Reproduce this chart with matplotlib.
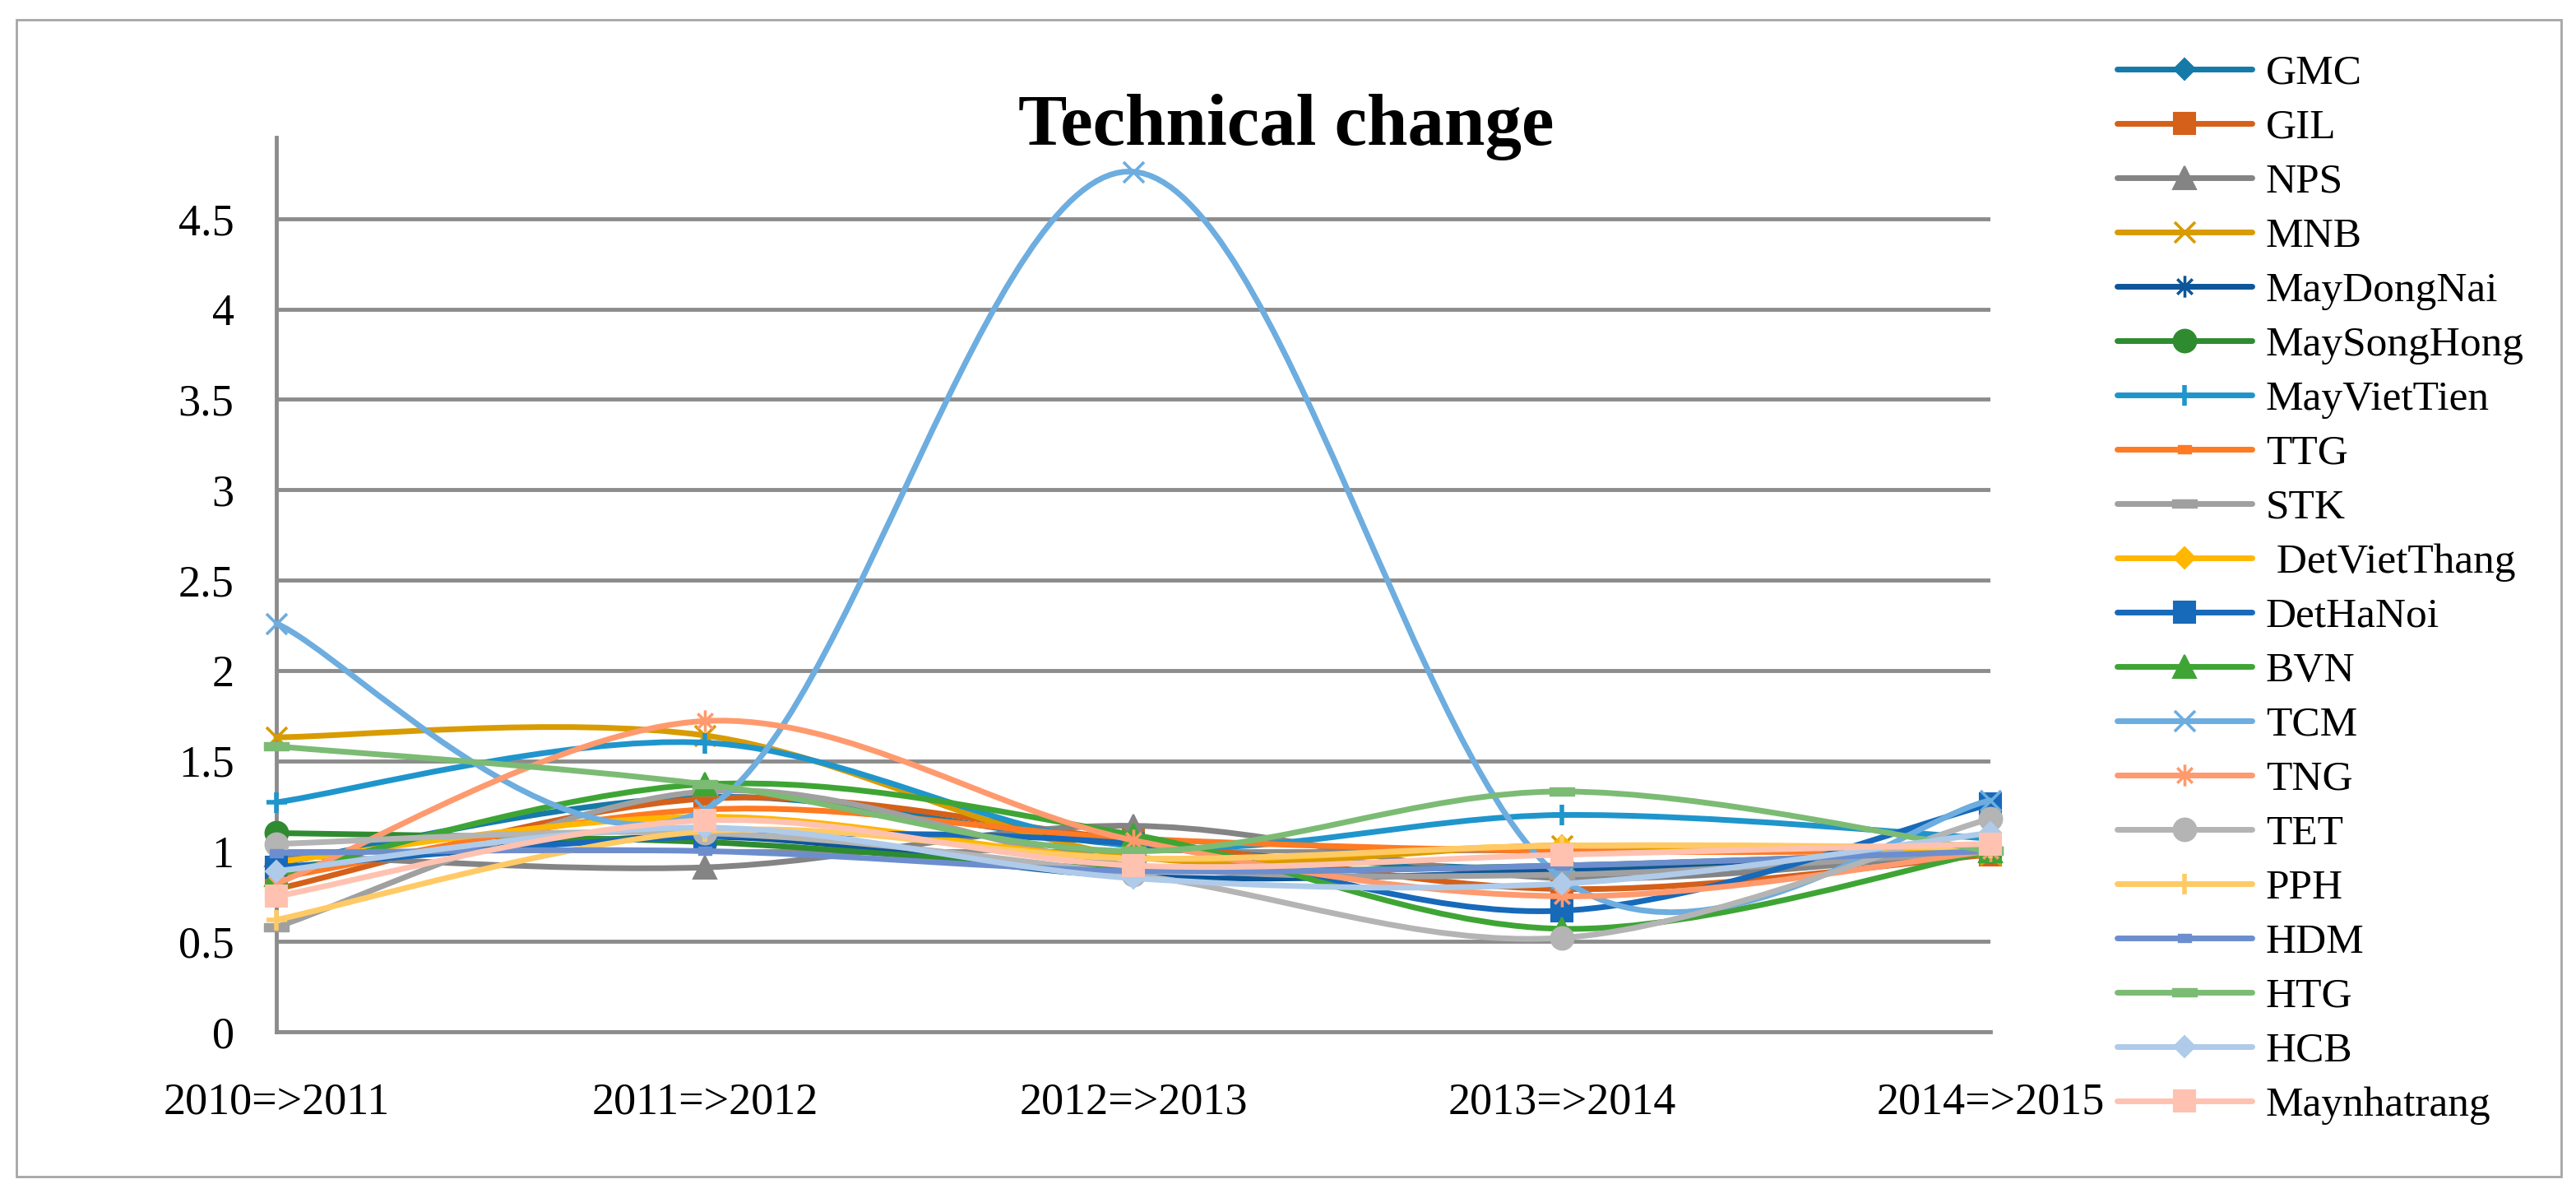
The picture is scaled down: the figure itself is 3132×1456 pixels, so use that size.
import numpy as np
import matplotlib
matplotlib.use('Agg')
import matplotlib.pyplot as plt
from matplotlib.path import Path
from matplotlib.patches import PathPatch, Rectangle
from matplotlib.lines import Line2D

# Datos
periodos = ['2010=>2011', '2011=>2012', '2012=>2013', '2013=>2014', '2014=>2015']
empresas = ['GMC', 'GIL', 'NPS', 'MNB', 'MayDongNai', 'MaySongHong', 'MayVietTien',
            'TTG', 'STK', ' DetVietThang', 'DetHaNoi', 'BVN', 'TCM', 'TNG', 'TET',
            'PPH', 'HDM', 'HTG', 'HCB', 'Maynhatrang']

gmc = [0.93, 1.30, 1.03, 0.90, 1.00]
gil = [0.79, 1.29, 1.06, 0.79, 0.98]
nps = [0.98, 0.91, 1.14, 0.85, 1.00]
mnb = [1.63, 1.64, 0.97, 1.03, 0.98]
may_dong_nai = [0.90, 1.08, 0.86, 0.89, 1.00]
may_song_hong = [1.10, 1.05, 0.90, 0.92, 1.00]
may_viet_tien = [1.27, 1.60, 1.03, 1.20, 1.07]
ttg = [0.85, 1.23, 1.07, 1.00, 1.00]
stk = [0.58, 1.33, 0.92, 0.87, 1.00]
det_viet_thang = [0.94, 1.19, 0.96, 1.03, 1.00]
det_ha_noi = [0.91, 1.08, 1.04, 0.67, 1.26]
bvn = [0.87, 1.37, 1.09, 0.57, 1.00]
tcm = [2.26, 1.23, 4.76, 0.85, 1.28]
tng = [0.82, 1.72, 1.06, 0.75, 1.00]
tet = [1.04, 1.10, 0.87, 0.52, 1.18]
pph = [0.62, 1.11, 0.96, 1.03, 1.02]
hdm = [0.99, 1.00, 0.89, 0.92, 1.00]
htg = [1.58, 1.37, 1.00, 1.33, 1.00]
hcb = [0.89, 1.13, 0.85, 0.82, 1.10]
maynhatrang = [0.75, 1.17, 0.92, 0.98, 1.04]

valores = [gmc, gil, nps, mnb, may_dong_nai, may_song_hong, may_viet_tien, ttg, stk,
           det_viet_thang, det_ha_noi, bvn, tcm, tng, tet, pph, hdm, htg, hcb, maynhatrang]

colores = ['#157AA8', '#D4601A', '#848484', '#D89B00', '#0D5699', '#2F8B30', '#1F95CC',
           '#FF7A22', '#A0A0A0', '#FFB702', '#1769BA', '#3EA535', '#6DADDF', '#FF9A6E',
           '#B4B4B4', '#FFCA66', '#6D8ECE', '#7CBB74', '#AFCBE9', '#FFC2B1']

# Marcadores tipo Excel
asterisco = Path([(-0.7, -0.7), (0.7, 0.7), (-0.7, 0.7), (0.7, -0.7), (0, -1), (0, 1)],
                 [Path.MOVETO, Path.LINETO, Path.MOVETO, Path.LINETO, Path.MOVETO, Path.LINETO])
guion_corto = Path([(-1, -0.55), (1, -0.55), (1, 0.55), (-1, 0.55), (-1, -0.55)],
                   [Path.MOVETO, Path.LINETO, Path.LINETO, Path.LINETO, Path.CLOSEPOLY])
guion_largo = Path([(-1, -0.37), (1, -0.37), (1, 0.37), (-1, 0.37), (-1, -0.37)],
                   [Path.MOVETO, Path.LINETO, Path.LINETO, Path.LINETO, Path.CLOSEPOLY])

# (marker, tamaño, grosor del borde)
estilo_diamante = ('D', 13.5, 1.5)
estilo_cuadrado = ('s', 19, 1.5)
estilo_triangulo = ('^', 20, 1.5)
estilo_x = ('x', 18, 2.6)
estilo_asterisco = (asterisco, 19, 2.6)
estilo_circulo = ('o', 20, 1.5)
estilo_mas = ('+', 18, 4.0)
estilo_corto = (guion_corto, 12, 1.0)
estilo_largo = (guion_largo, 21, 1.0)

marcadores = [estilo_diamante, estilo_cuadrado, estilo_triangulo, estilo_x, estilo_asterisco,
              estilo_circulo, estilo_mas, estilo_corto, estilo_largo,
              estilo_diamante, estilo_cuadrado, estilo_triangulo, estilo_x, estilo_asterisco,
              estilo_circulo, estilo_mas, estilo_corto, estilo_largo,
              estilo_diamante, estilo_cuadrado]


def curva_suave(xs, ys):
    """Curva Bezier suavizada como la línea suavizada de Excel."""
    pts = np.column_stack([xs, ys]).astype(float)
    n = len(pts)
    verts = [pts[0]]
    codes = [Path.MOVETO]
    for i in range(n - 1):
        p_prev = pts[max(i - 1, 0)]
        p0 = pts[i]
        p1 = pts[i + 1]
        p_next = pts[min(i + 2, n - 1)]
        c1 = p0 + (p1 - p_prev) / 6.0
        c2 = p1 - (p_next - p0) / 6.0
        verts += [c1, c2, p1]
        codes += [Path.CURVE4] * 3
    return Path(verts, codes)


plt.rcParams['font.family'] = ['Liberation Serif', 'DejaVu Serif']

fig = plt.figure(figsize=(31.32, 14.56), dpi=100)
ax = fig.add_axes([336 / 3132, 1 - 1254 / 1456, (2420 - 336) / 3132, (1254 - 167) / 1456])

x = np.arange(len(periodos))
lw = 5.0
handles = []
for i, (nombre, ys, color, (mk, ms, mew)) in enumerate(zip(empresas, valores, colores, marcadores)):
    z = 3 + i * 0.01
    patch = PathPatch(curva_suave(x, ys), fill=False, edgecolor=color, linewidth=lw,
                      capstyle='round', joinstyle='round', clip_on=False, zorder=z)
    ax.add_patch(patch)
    ax.plot(x, ys, linestyle='none', marker=mk, markersize=ms, markeredgewidth=mew,
            color=color, markerfacecolor=color, markeredgecolor=color, clip_on=False, zorder=z)
    handles.append(Line2D([], [], color=color, linewidth=lw, solid_capstyle='round',
                          marker=mk, markersize=ms, markeredgewidth=mew,
                          markerfacecolor=color, markeredgecolor=color, label=nombre))

ax.set_xlim(0, 4)
ax.set_ylim(0, 4.95)
ax.set_xticks(x)
ax.set_xticklabels(periodos)
ax.set_yticks(np.arange(0, 4.51, 0.5))
ax.set_yticklabels(['0', '0.5', '1', '1.5', '2', '2.5', '3', '3.5', '4', '4.5'])
ax.tick_params(axis='both', length=0, labelsize=39)
ax.tick_params(axis='y', pad=37)
ax.tick_params(axis='x', pad=44)

gris = '#8C8C8C'
ax.set_axisbelow(True)
ax.yaxis.grid(True, color=gris, linewidth=3.5)
for lado in ['top', 'right']:
    ax.spines[lado].set_visible(False)
for lado in ['left', 'bottom']:
    ax.spines[lado].set_color(gris)
    ax.spines[lado].set_linewidth(3.5)

fig.text(1564 / 3132, 1 - 176 / 1456, 'Technical change', fontsize=64, fontweight='bold',
         ha='center', va='baseline')

fig.legend(handles=handles, loc='upper left', bbox_to_anchor=(2574 / 3132, 1 - 66 / 1456),
           frameon=False, fontsize=37, borderpad=0, borderaxespad=0, labelspacing=0.37,
           handlelength=3.2, handletextpad=0.32, numpoints=1)

# Marco exterior
fig.patches.append(Rectangle((20 / 3132, 1 - 1430 / 1456), 3094 / 3132, 1406 / 1456,
                             transform=fig.transFigure, fill=False, edgecolor='#A6A6A6',
                             linewidth=2))

plt.savefig('out.png', dpi=100)
plt.close()
